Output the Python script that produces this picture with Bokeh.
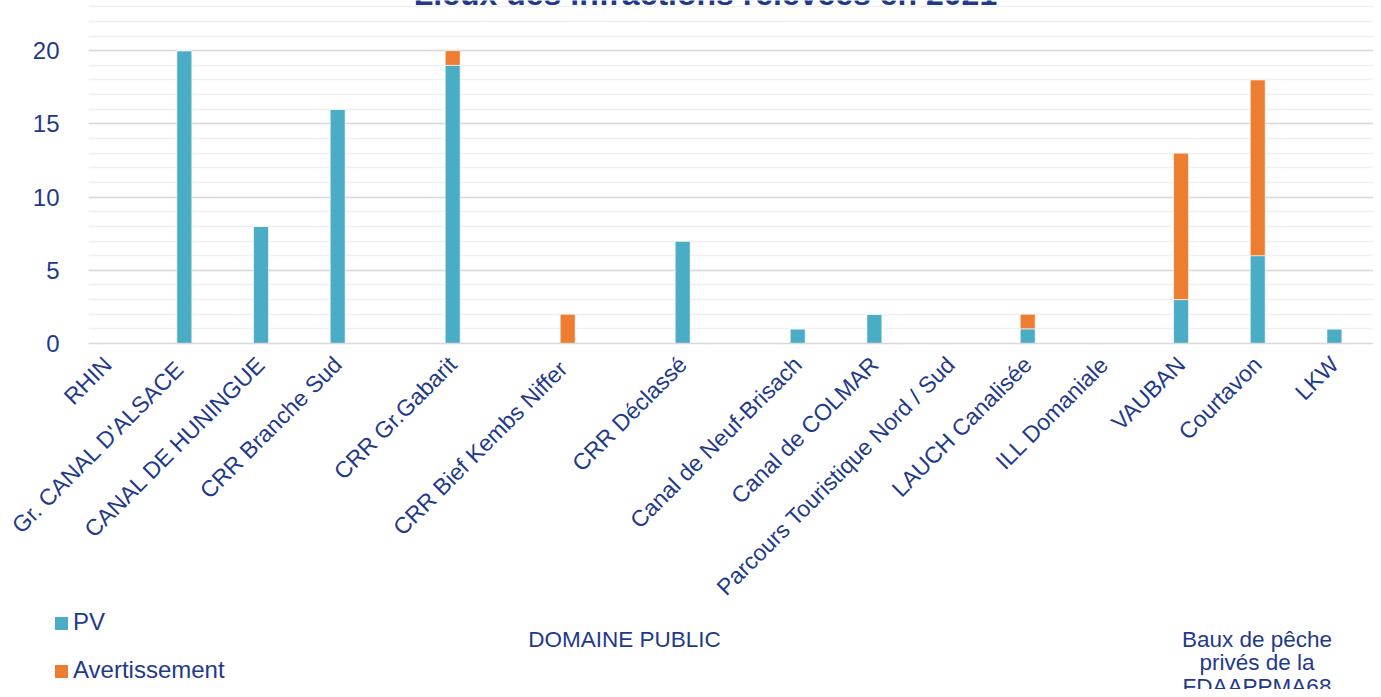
import math
from bokeh.plotting import figure
from bokeh.layouts import column
from bokeh.models import (Range1d, FixedTicker, SingleIntervalTicker, Label,
                          ColumnDataSource, Div)
from bokeh.embed import file_html
from bokeh.resources import INLINE

# ---------------- data ----------------
categories = ["RHIN", "Gr. CANAL  D'ALSACE", "CANAL DE HUNINGUE", "CRR Branche Sud",
              "CRR Gr.Gabarit", "CRR Bief Kembs  Niffer", "CRR Déclassé",
              "Canal de Neuf-Brisach", "Canal de COLMAR", "Parcours Touristique Nord / Sud",
              "LAUCH Canalisée", "ILL Domaniale", "VAUBAN", "Courtavon", "LKW"]
pv = [0, 20, 8, 16, 19, 0, 7, 1, 2, 0, 1, 0, 3, 6, 1]
avertissement = [0, 0, 0, 0, 1, 2, 0, 0, 0, 0, 1, 0, 10, 12, 0]
series = ["PV", "Avertissement"]
title_text = "Lieux des infractions relevées en 2021"
group_public = "DOMAINE PUBLIC"
group_private = ["Baux de pêche", "privés de la", "FDAAPPMA68"]

# ---------------- layout / style ----------------
extra_gap = [0, 0, 0, 0, 1, 1, 1, 1, 0, 0, 0, 0, 0, 0, 0]  # empty slots before category
positions = []
cur = 0
for i, g in enumerate(extra_gap):
    if i > 0:
        cur += 2 + g
    positions.append(cur)

TEAL = "#4BACC6"
ORANGE = "#ED7D31"
colors = [TEAL, ORANGE]
TXT = "#1F3A8A"
FONT = "Liberation Sans"
W = 1373
H_MAIN = 612
H_FOOT = 77

src = ColumnDataSource(dict(x=positions, PV=pv, Avertissement=avertissement))

p = figure(width=W, height=H_MAIN, output_backend="svg", toolbar_location=None,
           x_range=Range1d(-0.5, 33.02), y_range=Range1d(0, 23.43),
           min_border_left=88, min_border_right=0, min_border_top=0,
           min_border_bottom=H_MAIN - 344, outline_line_color=None,
           background_fill_color="white", border_fill_color="white")

p.vbar_stack(series, x="x", width=0.39, source=src,
             color=colors, line_color="white", line_alpha=0.6, line_width=1)

# grid
p.xgrid.visible = False
p.yaxis.ticker = SingleIntervalTicker(interval=5, num_minor_ticks=5)
p.ygrid.grid_line_color = "#D9D9D9"
p.ygrid.grid_line_width = 1.5
p.ygrid.minor_grid_line_color = "#F0F0F0"
p.ygrid.minor_grid_line_width = 1.5

# y axis
p.yaxis.axis_line_color = None
p.yaxis.major_tick_line_color = None
p.yaxis.minor_tick_line_color = None
p.yaxis.major_tick_out = 0
p.yaxis.major_label_standoff = 25
p.yaxis.major_label_text_font = FONT
p.yaxis.major_label_text_font_size = "24px"
p.yaxis.major_label_text_color = TXT

# x axis
p.xaxis.ticker = FixedTicker(ticks=positions)
p.xaxis.major_label_overrides = {pos: name for pos, name in zip(positions, categories)}
p.xaxis.major_label_orientation = math.pi / 4
p.xaxis.axis_line_color = "#D9D9D9"
p.xaxis.axis_line_width = 1.5
p.xaxis.major_tick_line_color = None
p.xaxis.minor_tick_line_color = None
p.xaxis.major_label_standoff = 11
p.xaxis.major_label_text_font = FONT
p.xaxis.major_label_text_font_size = "23px"
p.xaxis.major_label_text_color = TXT

# title (cut at the top, as in the reference)
p.add_layout(Label(x=617, y=349.5, x_units="screen", y_units="screen", text=title_text,
                   text_font=FONT, text_font_size="32px", text_font_style="bold",
                   text_color=TXT, text_align="center", text_baseline="middle"))

# ---------------- footer: legend + group labels (HTML) ----------------
font_css = "font-family:'Liberation Sans',Arial,sans-serif;color:%s;white-space:nowrap;" % TXT


def box(text, left, top, size, lh, width=None, align="left"):
    w = "width:%dpx;" % width if width else ""
    return ('<div style="position:absolute;left:%.1fpx;top:%.1fpx;%sfont-size:%spx;'
            'line-height:%spx;text-align:%s;%s">%s</div>'
            % (left, top, w, size, lh, align, font_css, text))


parts = []
legend_tops = [5, 53]
for name, col, top in zip(series, colors, legend_tops):
    parts.append('<div style="position:absolute;left:55px;top:%dpx;width:13px;height:13px;'
                 'background:%s"></div>' % (top, col))
    parts.append(box(name, 73, top - 4.6, 24, 20))
parts.append(box(group_public, 624.5 - 200, 16.5, 22.5, 22.5, width=400, align="center"))
for i, line in enumerate(group_private):
    parts.append(box(line, 1257 - 150, 17 + 23.3 * i, 22.5, 22.5, width=300, align="center"))

html = ('<div style="position:relative;width:%dpx;height:%dpx;overflow:hidden;'
        'background:white;margin:0;padding:0">%s</div>' % (W, H_FOOT, "".join(parts)))
footer = Div(text=html, width=W, height=H_FOOT, margin=0,
             styles={"overflow": "hidden", "padding": "0", "margin": "0"})

layout = column(p, footer, spacing=0)
open("out.html", "w").write(file_html(layout, INLINE))
